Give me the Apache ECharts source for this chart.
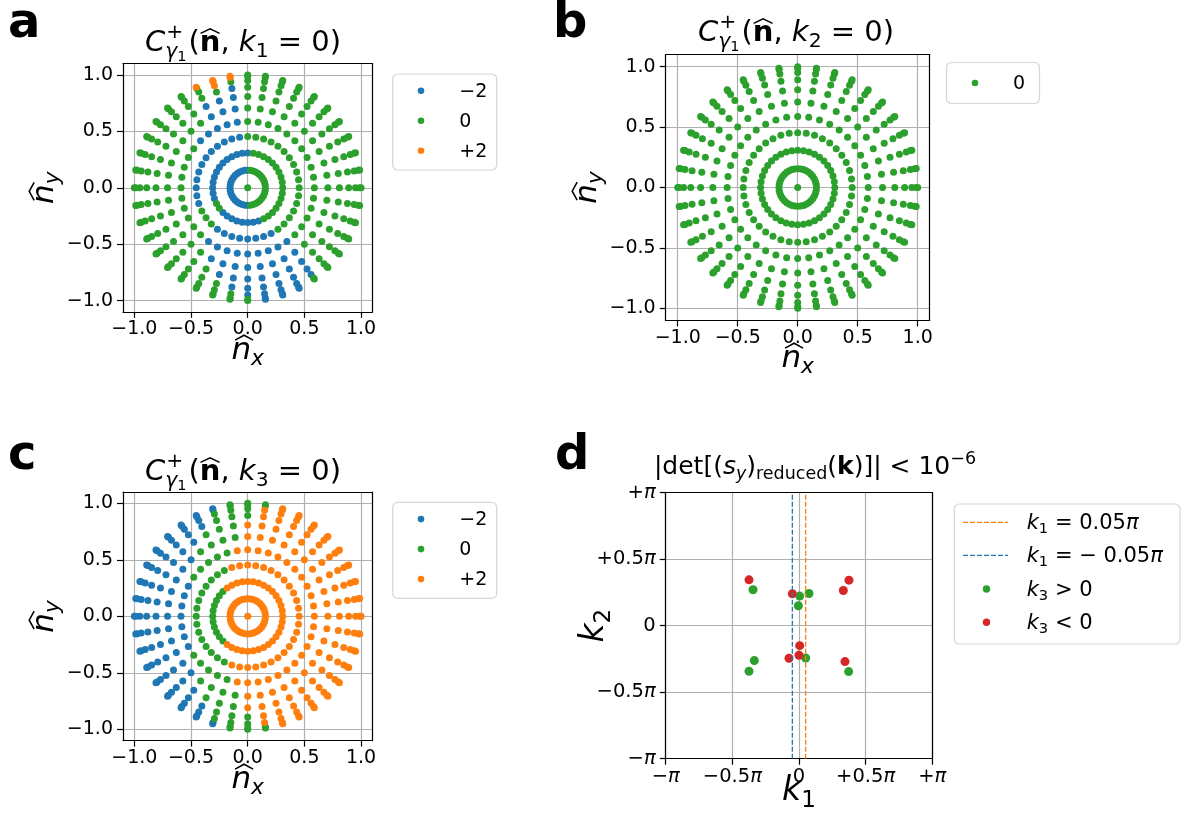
<!DOCTYPE html>
<html>
<head>
<meta charset="utf-8">
<script src="https://cdn.jsdelivr.net/npm/echarts@6.0.0/dist/echarts.min.js"></script>
<style>
html,body{margin:0;padding:0;background:#ffffff;}
#chart{width:1196px;height:824px;}
</style>
</head>
<body>
<div id="chart"></div>
<script>
// ---------------- data ----------------
// radii of the rings of sampled directions (projection of n-hat on the plane)
const ringRadii = [0.156, 0.309, 0.454, 0.588, 0.707, 0.809, 0.891, 0.951, 0.988, 1.0];
// azimuth of the spokes (degrees)
const spokeAngles = [0, 9, 18, 27, 36, 45, 54, 63, 72, 81, 90, 99, 108, 117, 126, 135, 144, 153, 162, 171,
  180, 189, 198, 207, 216, 225, 234, 243, 252, 261, 270, 279, 288, 297, 306, 315, 324, 333, 342, 351];
// value seen at each (ring, spoke): B = -2, G = 0, O = +2 (one character per spoke)
const panelARings = [
  'GGGGGGGGGG' + 'BBBBBBBBBBBBBBBBBBBBB' + 'GGGGGGGGG',
  'GGGGGGGGGG' + 'BBBBBBBBBBBBB' + 'GG' + 'BBBBBBBB' + 'GGGGGGG',
  'GGGGGGGGGGG' + 'BBBBBBBBBBBB' + 'GGG' + 'BBBBBBBB' + 'GGGGGG',
  'GGGGGGGGGGG' + 'BBBBB' + 'GGGGGGGGGG' + 'BBBBBBBBB' + 'GGGGG',
  'GGGGGGGGGGG' + 'BBB' + 'GGGGGGGGGGGGG' + 'BBBBBBBB' + 'GGGGG',
  'GGGGGGGGGGG' + 'BBB' + 'GGGGGGGGGGGGGG' + 'BBBBBBB' + 'GGGGG',
  'GGGGGGGGGGG' + 'B' + 'GGGGGGGGGGGGGGGGG' + 'BBBBBB' + 'GGGGG',
  'GGGGGGGGGGGG' + 'O' + 'GGGGGGGGGGGGGGGGG' + 'BBBBB' + 'GGGGG',
  'GGGGGGGGGGG' + 'OO' + 'GGGGGGGGGGGGGGGGGG' + 'BBB' + 'GGGGGG',
  'GGGGGGGGGGG' + 'OOO' + 'GGGGGGGGGGGGGGGGG' + 'BBB' + 'GGGGGG'
];
const panelACenter = 'G';
const panelBRings = [
  'GGGGGGGGGGGGGGGGGGGGGGGGGGGGGGGGGGGGGGGG',
  'GGGGGGGGGGGGGGGGGGGGGGGGGGGGGGGGGGGGGGGG',
  'GGGGGGGGGGGGGGGGGGGGGGGGGGGGGGGGGGGGGGGG',
  'GGGGGGGGGGGGGGGGGGGGGGGGGGGGGGGGGGGGGGGG',
  'GGGGGGGGGGGGGGGGGGGGGGGGGGGGGGGGGGGGGGGG',
  'GGGGGGGGGGGGGGGGGGGGGGGGGGGGGGGGGGGGGGGG',
  'GGGGGGGGGGGGGGGGGGGGGGGGGGGGGGGGGGGGGGGG',
  'GGGGGGGGGGGGGGGGGGGGGGGGGGGGGGGGGGGGGGGG',
  'GGGGGGGGGGGGGGGGGGGGGGGGGGGGGGGGGGGGGGGG',
  'GGGGGGGGGGGGGGGGGGGGGGGGGGGGGGGGGGGGGGGG'
];
const panelBCenter = 'G';
const panelCRings = [
  'OOOOOOOOOOOOOOOOOOOOOOOOOOOOOOOOOOOOOOOO',
  'OOOOOOOOOOOOOOOGGGGGGGGGGGOOOOOOOOOOOOOO',
  'OOOOOOOOOOOOOGGGGGGGGGGGGGGGOOOOOOOOOOOO',
  'OOOOOOOOOOOOGGGGGBBBBBBBGGGGGOOOOOOOOOOO',
  'OOOOOOOOOOOGGGGBBBBBBBBBBBGGGGOOOOOOOOOO',
  'OOOOOOOOOOOGGGBBBBBBBBBBBBBGGGOOOOOOOOOO',
  'OOOOOOOOOOGGGBBBBBBBBBBBBBBBGGGOOOOOOOOO',
  'OOOOOOOOOO' + 'GGG' + 'BBBBBBBBBBBBBBB' + 'GGG' + 'OOOOOOOOO',
  'OOOOOOOOOGGGBBBBBBBBBBBBBBBBBGGGOOOOOOOO',
  'OOOOOOOOOGGGBBBBBBBBBBBBBBBBBGGGOOOOOOOO'
];
const panelCCenter = 'O';
const classCodes = ['B', 'G', 'O'];
const classLabels = ['\u22122', '0', '+2'];
const nTicks = [-1.0, -0.5, 0.0, 0.5, 1.0];
// panel d, coordinates in units of pi
const kTicks = [-1, -0.5, 0, 0.5, 1];
const kTickLabels = ['\u2212', '\u22120.5', '0', '+0.5', '+'];
const k1Lines = [0.05, -0.05];
const k3Pos = [[-0.345, 0.27], [0.005, 0.2225], [0.075, 0.2425], [-0.005, 0.15],
  [-0.335, -0.2625], [-0.375, -0.3425], [0.05, -0.2425], [0.3725, -0.345]];
const k3Neg = [[-0.375, 0.345], [0.375, 0.3425], [0.3325, 0.265], [-0.05, 0.24],
  [0.005, -0.15], [0, -0.2225], [-0.075, -0.245], [0.345, -0.27]];

// ---------------- styling ----------------
const COL = { B: '#1f77b4', G: '#2ca02c', O: '#ff7f0e', R: '#d62728' };
const FAM = "'DejaVu Sans'";
const TICK_FS = 19;
const grids = [
  { left: 123.0, top: 63.6, width: 249.4, height: 248.3 },
  { left: 665.7, top: 54.6, width: 264.0, height: 265.8 },
  { left: 123.0, top: 492.0, width: 249.4, height: 248.6 },
  { left: 665.7, top: 492.7, width: 266.6, height: 266.0 }
];

function ringPoints(rings, center, code) {
  const pts = [];
  if (center === code) pts.push([0, 0]);
  ringRadii.forEach((r, i) => {
    spokeAngles.forEach((a, j) => {
      if (rings[i][j] === code) {
        const t = a * Math.PI / 180;
        pts.push([r * Math.cos(t), r * Math.sin(t)]);
      }
    });
  });
  return pts;
}

const fmtN = v => (v < 0 ? '\u2212' : '') + Math.abs(v).toFixed(1);

function mainAxis(gi, isX, forK) {
  const ticks = forK ? kTicks : nTicks;
  const fs = forK ? 19.5 : TICK_FS;
  const ax = {
    type: 'value', gridIndex: gi,
    min: forK ? -1 : -1.1, max: forK ? 1 : 1.1,
    position: isX ? 'bottom' : 'left',
    axisLine: { show: true, onZero: false, lineStyle: { color: '#000', width: 1.2 } },
    axisTick: { show: true, length: 6, inside: false, lineStyle: { color: '#000', width: 1.2 }, customValues: ticks },
    axisLabel: {
      show: true, margin: isX ? 8 : 10, color: '#000', fontSize: fs, fontFamily: 'DejaVu Sans',
      customValues: ticks,
      formatter: forK ? (v => {
        const i = kTicks.findIndex(t => Math.abs(t - v) < 1e-6);
        if (i < 0) return '';
        if (kTicks[i] === 0) return '{a|0}';
        return '{a|' + kTickLabels[i] + '}{p|\u03c0}';
      }) : (v => (Math.abs(v) > 1.05 ? '' : fmtN(v))),
      rich: forK ? {
        a: { fontSize: fs, fontFamily: 'DejaVu Sans', color: '#000' },
        p: { fontSize: fs, fontFamily: 'DejaVu Sans', fontStyle: 'italic', color: '#000' }
      } : undefined
    },
    splitLine: { show: true, lineStyle: { color: '#b0b0b0', width: 1.2 } }
  };
  if (forK) { ax.interval = 0.5; }
  else { ax.splitNumber = 4; }
  return ax;
}
function frameAxis(gi, isX, forK) {
  return {
    type: 'value', gridIndex: gi, min: forK ? -1 : -1.1, max: forK ? 1 : 1.1,
    position: isX ? 'top' : 'right',
    axisLine: { show: true, onZero: false, lineStyle: { color: '#000', width: 1.2 } },
    axisTick: { show: false }, axisLabel: { show: false }, splitLine: { show: false }
  };
}

const xAxes = [], yAxes = [];
for (let g = 0; g < 4; g++) { xAxes.push(mainAxis(g, true, g === 3)); yAxes.push(mainAxis(g, false, g === 3)); }
for (let g = 0; g < 4; g++) { xAxes.push(frameAxis(g, true, g === 3)); yAxes.push(frameAxis(g, false, g === 3)); }

const series = [];
const panels = [[panelARings, panelACenter], [panelBRings, panelBCenter], [panelCRings, panelCCenter]];
panels.forEach((pd, gi) => {
  classCodes.forEach((code, ci) => {
    const data = ringPoints(pd[0], pd[1], code);
    if (!data.length) return;
    series.push({
      type: 'scatter', name: classLabels[ci], xAxisIndex: gi, yAxisIndex: gi,
      data, symbol: 'circle', symbolSize: 7, silent: true,
      itemStyle: { color: COL[code], opacity: 1 }
    });
  });
});
// panel d
const lineCols = [COL.O, COL.B];
k1Lines.forEach((k, i) => {
  series.push({
    type: 'line', xAxisIndex: 3, yAxisIndex: 3, silent: true, showSymbol: false, symbol: 'none',
    data: [[k, -1], [k, 1]],
    lineStyle: { color: lineCols[i], width: 1.3, type: [5, 2] }
  });
});
series.push({ type: 'scatter', xAxisIndex: 3, yAxisIndex: 3, data: k3Pos, symbolSize: 9, silent: true, itemStyle: { color: COL.G, opacity: 1 } });
series.push({ type: 'scatter', xAxisIndex: 3, yAxisIndex: 3, data: k3Neg, symbolSize: 9, silent: true, itemStyle: { color: COL.R, opacity: 1 } });

// ---------------- math-like text helper ----------------
const mctx = document.createElement('canvas').getContext('2d');
function fnt(p) { return (p.it ? 'italic ' : '') + (p.b ? 'bold ' : '') + p.s.toFixed(2) + 'px ' + FAM; }
function math(pieces, x, y, align, rot) {
  let cur = 0; const kids = [];
  for (const p of pieces) {
    const f = fnt(p);
    mctx.font = f;
    const w = mctx.measureText(p.t).width;
    const px = cur + (p.dx || 0);
    const by = p.dy || 0;
    kids.push({
      type: 'text', x: px, y: by - 0.297 * p.s, silent: true,
      style: { text: p.t, font: f, fill: '#000', align: 'left', verticalAlign: 'middle', textAlign: 'left', textVerticalAlign: 'middle' }
    });
    if (p.hat) {
      const sk = p.it ? 0.09 * p.s : 0;
      const x0 = px + 0.04 * w + sk, x1 = px + 0.96 * w + sk;
      const yb = by - 0.64 * p.s, ya = by - 0.80 * p.s;
      kids.push({ type: 'polyline', silent: true, shape: { points: [[x0, yb], [(x0 + x1) / 2, ya], [x1, yb]] },
        style: { stroke: '#000', lineWidth: Math.max(1, 0.05 * p.s), fill: null } });
    }
    if (p.adv !== false) cur = px + w;
  }
  const off = align === 'center' ? -cur / 2 : (align === 'right' ? -cur : 0);
  return { type: 'group', x, y, rotation: rot || 0, children: [{ type: 'group', x: off, y: 0, children: kids }] };
}
function titleC(idx, T) {
  return [
    { t: 'C', s: T, it: 1 },
    { t: '+', s: T * 0.7, dy: -T * 0.45, adv: false, dx: 1 },
    { t: '\u03b3', s: T * 0.7, it: 1, dy: T * 0.22 },
    { t: '1', s: T * 0.5, dy: T * 0.34 },
    { t: '(', s: T, dx: 2 },
    { t: 'n', s: T, b: 1, hat: 1 },
    { t: ', ', s: T },
    { t: 'k', s: T, it: 1 },
    { t: String(idx), s: T * 0.7, dy: T * 0.2 },
    { t: ' = 0)', s: T }
  ];
}
function nLabel(sub, L) {
  return [{ t: 'n', s: L, it: 1, hat: 1 }, { t: sub, s: L * 0.7, it: 1, dy: L * 0.2 }];
}
function kLabel(sub, L) {
  return [{ t: 'k', s: L, it: 1 }, { t: sub, s: L * 0.7, dy: L * 0.2 }];
}

const graphics = [];
// panel letters
graphics.push(math([{ t: 'a', s: 48, b: 1 }], 8, 39, 'left'));
graphics.push(math([{ t: 'b', s: 48, b: 1 }], 553, 39, 'left'));
graphics.push(math([{ t: 'c', s: 48, b: 1 }], 8, 471, 'left'));
graphics.push(math([{ t: 'd', s: 48, b: 1 }], 555, 471, 'left'));
// titles
const T1 = 29;
graphics.push(math(titleC(1, T1), 243, 52, 'center'));
graphics.push(math(titleC(2, T1), 796, 42, 'center'));
graphics.push(math(titleC(3, T1), 243, 481, 'center'));
const T2 = 25;
graphics.push(math([
  { t: '|det[(', s: T2 }, { t: 's', s: T2, it: 1 }, { t: 'y', s: T2 * 0.7, it: 1, dy: T2 * 0.2 },
  { t: ')', s: T2 }, { t: 'reduced', s: T2 * 0.7, dy: T2 * 0.2 }, { t: '(', s: T2 }, { t: 'k', s: T2, b: 1 },
  { t: ')]| < 10', s: T2 }, { t: '\u22126', s: T2 * 0.7, dy: -T2 * 0.42 }
], 815, 475, 'center'));
// axis names
const L = 31;
graphics.push(math(nLabel('x', L), 247.7, 360, 'center'));
graphics.push(math(nLabel('y', L), 54, 187.7, 'center', Math.PI / 2));
graphics.push(math(nLabel('x', L), 797.7, 368, 'center'));
graphics.push(math(nLabel('y', L), 597, 187.5, 'center', Math.PI / 2));
graphics.push(math(nLabel('x', L), 247.7, 789, 'center'));
graphics.push(math(nLabel('y', L), 54, 616.5, 'center', Math.PI / 2));
graphics.push(math(kLabel('1', 33), 799, 801, 'center'));
graphics.push(math(kLabel('2', 33), 604, 625.7, 'center', Math.PI / 2));

// legends
function frame(x, y, w, h) {
  return { type: 'rect', silent: true, shape: { x, y, width: w, height: h, r: 5 }, style: { fill: '#ffffff', stroke: '#d6d6d6', lineWidth: 1.2 } };
}
function dot(cx, cy, color, r) {
  return { type: 'circle', silent: true, shape: { cx, cy, r }, style: { fill: color } };
}
function legendNum(x0, y0, codes, labels) {
  graphics.push(frame(x0, y0, 104, 96));
  codes.forEach((c, i) => {
    const cy = y0 + 16.7 + 30 * i;
    graphics.push(dot(x0 + 28.3, cy, COL[c], 3.3));
    graphics.push(math([{ t: labels[i], s: TICK_FS }], x0 + 66.6, cy + 6.9, 'left'));
  });
}
legendNum(392.7, 74, classCodes, classLabels);
legendNum(392.7, 502.4, classCodes, classLabels);
graphics.push(frame(946.5, 62.5, 93, 41));
graphics.push(dot(975, 83, COL.G, 3.3));
graphics.push(math([{ t: '0', s: TICK_FS }], 1013, 89.9, 'left'));
// legend d
graphics.push(frame(954.3, 504, 225.7, 140));
const ldY = [522.3, 555.3, 589, 622.3];
[COL.O, COL.B].forEach((c, i) => {
  graphics.push({ type: 'line', silent: true, shape: { x1: 963, y1: ldY[i], x2: 1008, y2: ldY[i] }, style: { stroke: c, lineWidth: 1.3, lineDash: [5, 2] } });
});
graphics.push(dot(986.5, ldY[2], COL.G, 3.7));
graphics.push(dot(986.5, ldY[3], COL.R, 3.7));
const LF = 21;
graphics.push(math([{ t: 'k', s: LF, it: 1 }, { t: '1', s: LF * 0.7, dy: LF * 0.2 }, { t: ' = 0.05', s: LF }, { t: '\u03c0', s: LF, it: 1 }], 1026.7, ldY[0] + 7.5, 'left'));
graphics.push(math([{ t: 'k', s: LF, it: 1 }, { t: '1', s: LF * 0.7, dy: LF * 0.2 }, { t: ' = \u2212 0.05', s: LF }, { t: '\u03c0', s: LF, it: 1 }], 1026.7, ldY[1] + 7.5, 'left'));
graphics.push(math([{ t: 'k', s: LF, it: 1 }, { t: '3', s: LF * 0.7, dy: LF * 0.2 }, { t: ' > 0', s: LF }], 1026.7, ldY[2] + 7.5, 'left'));
graphics.push(math([{ t: 'k', s: LF, it: 1 }, { t: '3', s: LF * 0.7, dy: LF * 0.2 }, { t: ' < 0', s: LF }], 1026.7, ldY[3] + 7.5, 'left'));

const chart = echarts.init(document.getElementById('chart'), null, { renderer: 'canvas' });
chart.setOption({
  backgroundColor: '#ffffff',
  animation: false,
  grid: grids.map(g => Object.assign({ containLabel: false, show: false }, g)),
  xAxis: xAxes,
  yAxis: yAxes,
  series,
  graphic: { elements: graphics }
});
</script>
</body>
</html>
